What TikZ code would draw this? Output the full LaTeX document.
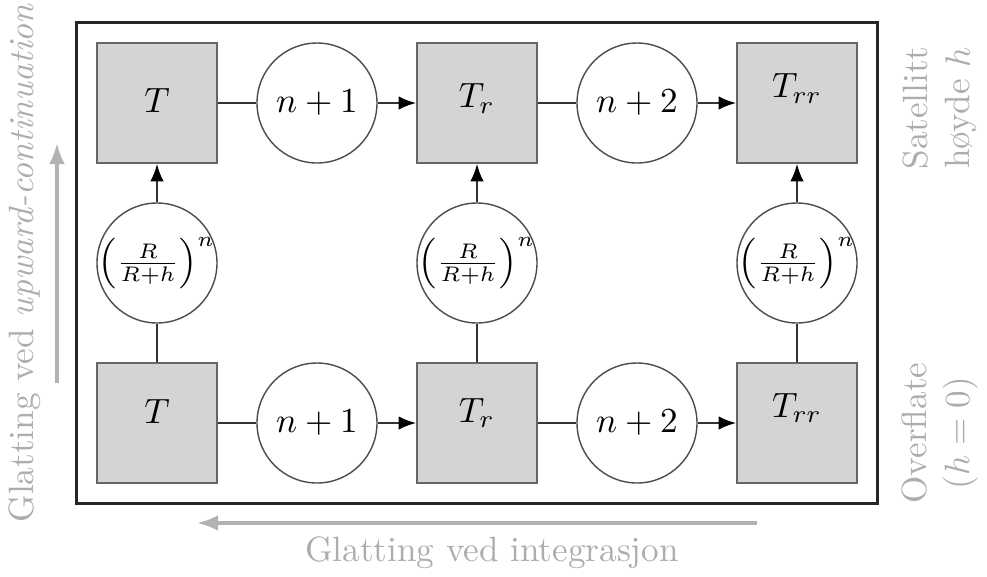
\documentclass[tikz,border=0pt]{standalone}
\usepackage{amsmath}
\usepackage{tikz}
\usetikzlibrary{positioning,arrows.meta,fit}

\tikzset{
  felt/.style={draw=black!60, fill=black!17, rectangle, minimum size=1.2cm, text depth=#1},
  felt/.default=0pt,
  ledd/.style={draw=black!70, fill=white, circle, minimum size=1.2cm, inner sep=0pt},
  faktor/.style={ledd, font=\footnotesize, inner sep=-2.2pt},
  kant/.style={draw=black!80, semithick},
  pil/.style={kant, -{Latex[length=5pt,width=3.8pt,black]}},
  hjelp/.style={draw=black!30, line width=1pt, -{Latex[length=6pt,width=4.5pt]}},
  hjelptekst/.style={text=black!32},
}

\begin{document}
\begin{tikzpicture}[node distance=1.6cm, auto]
        \useasboundingbox (-1.57,-1.53) rectangle (8.30,4.23);

        % nederste rad (overflate)
        \node[felt=6.3pt] (botT) at (0,0) {$T$};
        \node[ledd, right of=botT] (botn1) {$n+1$};
        \node[felt=7.4pt, right of=botn1] (botTr) {$T_r$};
        \node[ledd, right of=botTr] (botn2) {$n+2$};
        \node[felt=10.2pt, right of=botn2] (botTrr) {$T_{rr}$};

        % faktorer
        \node[faktor, above of=botT] (fracL) {$\left(\frac{R}{R+h}\right)^n$};
        \node[faktor, above of=botTr] (fracM) {$\left(\frac{R}{R+h}\right)^n$};
        \node[faktor, above of=botTrr] (fracR) {$\left(\frac{R}{R+h}\right)^n$};

        % øverste rad (satellitt)
        \node[felt=1.7pt, above of=fracL] (topT) {$T$};
        \node[ledd, right of=topT] (topn1) {$n+1$};
        \node[felt=4pt, right of=topn1] (topTr) {$T_r$};
        \node[ledd, right of=topTr] (topn2) {$n+2$};
        \node[felt=9.7pt, right of=topn2] (topTrr) {$T_{rr}$};

        \node[draw=black!85, thick, fit=(botT)(topTrr), inner sep=0.2cm] (ramme) {};

        \draw[kant] (topT) -- (topn1);
        \draw[pil] (topn1) -- (topTr);
        \draw[kant] (topTr) -- (topn2);
        \draw[pil] (topn2) -- (topTrr);
        \draw[kant] (botT) -- (botn1);
        \draw[pil] (botn1) -- (botTr);
        \draw[kant] (botTr) -- (botn2);
        \draw[pil] (botn2) -- (botTrr);

        \draw[kant] (botT) -- (fracL);
        \draw[pil] (fracL) -- (topT);
        \draw[kant] (botTr) -- (fracM);
        \draw[pil] (fracM) -- (topTr);
        \draw[kant] (botTrr) -- (fracR);
        \draw[pil] (fracR) -- (topTrr);

        % glatting
        \coordinate (oppA) at (-1,0.4);
        \coordinate (oppB) at (-1,2.8);
        \coordinate (intA) at (6.0,-1.0);
        \coordinate (intB) at (0.4,-1.0);
        \draw[hjelp] (oppA) -- (oppB);
        \draw[hjelp] (intA) -- (intB);
        \node[hjelptekst, rotate=90] (opptekst) at (-1.32,1.6) {Glatting ved \textit{upward-continuation}};
        \node[hjelptekst] (inttekst) at (3.35,-1.3) {Glatting ved integrasjon};
        \node[hjelptekst, rotate=90, align=center] (sattekst) at (7.83,3.15) {Satellitt\\høyde $h$};
        \node[hjelptekst, rotate=90, align=center] (overtekst) at (7.83,-0.1) {Overflate\\$(h=0)$};
    \end{tikzpicture}
\end{document}
